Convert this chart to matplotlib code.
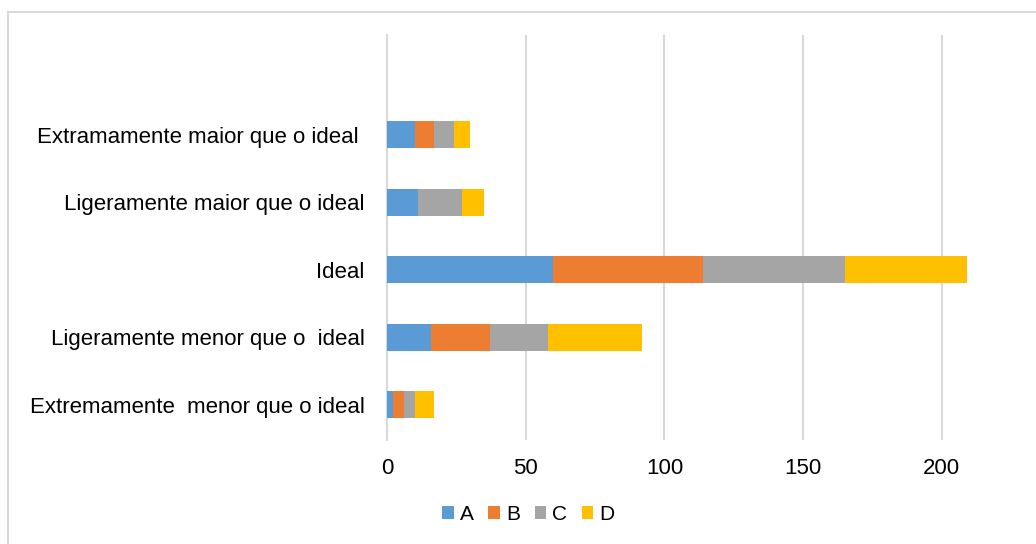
import matplotlib.pyplot as plt
from matplotlib.patches import Rectangle
import numpy as np

plt.rcParams['font.family'] = ['Liberation Sans', 'DejaVu Sans']

# categories, bottom to top
categorias = ['Extremamente  menor que o ideal',
              'Ligeramente menor que o  ideal',
              'Ideal',
              'Ligeramente maior que o ideal',
              'Extramamente maior que o ideal ']
A = [2, 16, 60, 11, 10]
B = [4, 21, 54, 0, 7]
C = [4, 21, 51, 16, 7]
D = [7, 34, 44, 8, 6]
series = ['A', 'B', 'C', 'D']
cores = ['#5b9bd5', '#ed7d31', '#a5a5a5', '#ffc000']

fig = plt.figure(figsize=(10.36, 5.44), dpi=100)
ax = fig.add_axes([0.3736, 0.191, 0.589, 0.745])

# outer chart border
fig.patches.append(Rectangle((8 / 1036, -0.05), 1.1, 1 - 12 / 544 + 0.05,
                             transform=fig.transFigure, fill=False,
                             edgecolor='#d9d9d9', lw=1.5))

y = np.arange(len(categorias))
left = np.zeros(len(categorias))
for nome, vals, cor in zip(series, [A, B, C, D], cores):
    ax.barh(y, vals, left=left, height=0.4, color=cor, label=nome, zorder=3)
    left += np.array(vals)

ax.set_xlim(0, 220)
ax.set_ylim(-0.52, 5.48)
ax.set_xticks([0, 50, 100, 150, 200])
ax.set_yticks(y)
ax.set_yticklabels(categorias)
ax.tick_params(axis='both', length=0, labelsize=16, colors='#000000')
ax.tick_params(axis='x', pad=13)
ax.tick_params(axis='y', pad=16)
ax.grid(axis='x', color='#d9d9d9', lw=1.5, zorder=0)
for s in ['top', 'right', 'bottom']:
    ax.spines[s].set_visible(False)
ax.spines['left'].set_color('#d9d9d9')
ax.spines['left'].set_linewidth(1.5)

fig.legend(loc='center', bbox_to_anchor=(0.51, 0.054), ncol=4, frameon=False,
           fontsize=15, handlelength=0.55, handleheight=0.55, handletextpad=0.3,
           columnspacing=0.7)

plt.savefig('out.png', dpi=100)
plt.close()
